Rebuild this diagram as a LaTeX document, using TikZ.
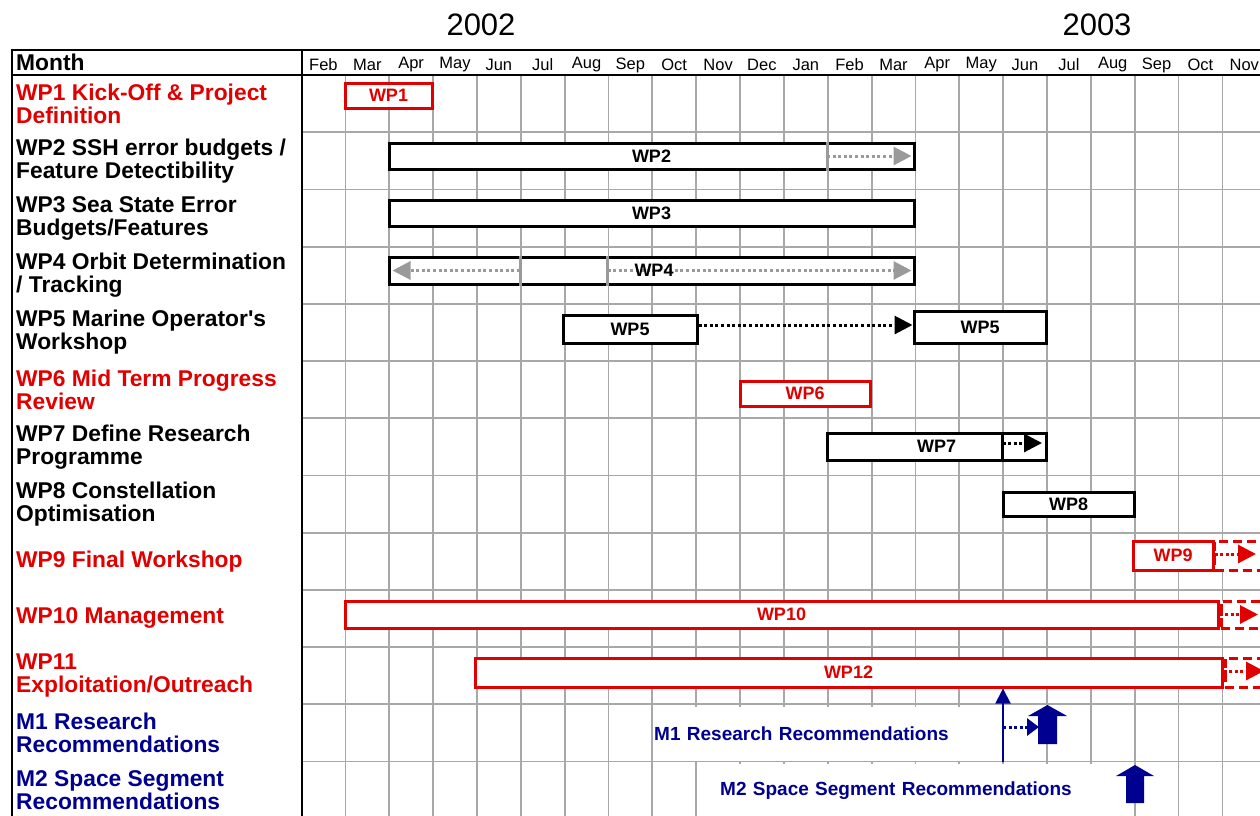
\documentclass[tikz,border=0pt]{standalone}
\usepackage{fontspec}
\setmainfont{Liberation Sans}
\usetikzlibrary{arrows.meta}
\definecolor{WPRed}   {HTML}{E00000}
\definecolor{MileBlue}{HTML}{000090}
\definecolor{GridGray}{HTML}{A8A8A8}
\definecolor{ArrGray} {HTML}{9A9A9A}
\tikzset{
  wpbar/.style={rectangle,draw=#1,fill=white,line width=3pt,inner sep=0pt,
                font=\fontsize{18}{20}\selectfont\bfseries\color{#1}},
  wpext/.style={rectangle,draw=WPRed,fill=white,line width=3pt,
                dash pattern=on 9pt off 5pt,inner sep=0pt,anchor=west},
  rowlab/.style={anchor=west,align=left,inner sep=0pt,
                 font=\fontsize{22.8}{23}\selectfont\bfseries\color{#1}},
  mlab/.style={anchor=west,align=left,fill=white,inner sep=0pt,
               minimum height=54pt,
               font=\fontsize{19}{21}\selectfont\bfseries\color{MileBlue}},
  mon/.style={font=\fontsize{16.5}{18}\selectfont},
  yr/.style={font=\fontsize{31}{34}\selectfont},
  dotarr/.style={-{Triangle[length=18pt,width=18pt]},line width=3pt,
                 dash pattern=on 3pt off 2.6pt,color=#1},
  divl/.style={line width=3pt,color=#1},
  gridl/.style={GridGray,line width=1.8pt},
  frame/.style={black,line width=2.6pt},
}
\begin{document}
\begin{tikzpicture}[x=1pt,y=-1pt]
  \useasboundingbox (0,0) rectangle (1260,815);
  \clip (0,0) rectangle (1260,815);

  % years
  \node[yr] (y2002) at (481,25) {2002};
  \node[yr] (y2003) at (1097,25) {2003};

  % grid
  \foreach \i in {0,...,21}
    \draw[gridl] (345.4+43.85*\i,75) -- (345.4+43.85*\i,830);
  \foreach \r in {1,...,13}
    \draw[gridl] (302,75+57.2*\r) -- (1270,75+57.2*\r);

  \draw[frame] (10.7,50) -- (1270,50);
  \draw[frame] (12,75) -- (1270,75);
  \draw[frame] (12,48.7) -- (12,830);
  \draw[frame] (302,50) -- (302,830);

  % month header
  \node[rowlab=black] (month) at (16,62) {Month};
  \node[mon] (feb02) at (323.4,65) {Feb};
  \node[mon] (mar02) at (367.3,65) {Mar};
  \node[mon] (apr02) at (411.1,65) {Apr};
  \node[mon] (may02) at (455.0,65) {May};
  \node[mon] (jun02) at (498.8,65) {Jun};
  \node[mon] (jul02) at (542.7,65) {Jul};
  \node[mon] (aug02) at (586.5,65) {Aug};
  \node[mon] (sep02) at (630.4,65) {Sep};
  \node[mon] (oct02) at (674.2,65) {Oct};
  \node[mon] (nov02) at (718.1,65) {Nov};
  \node[mon] (dec02) at (761.9,65) {Dec};
  \node[mon] (jan03) at (805.8,65) {Jan};
  \node[mon] (feb03) at (849.6,65) {Feb};
  \node[mon] (mar03) at (893.5,65) {Mar};
  \node[mon] (apr03) at (937.3,65) {Apr};
  \node[mon] (may03) at (981.2,65) {May};
  \node[mon] (jun03) at (1025.0,65) {Jun};
  \node[mon] (jul03) at (1068.9,65) {Jul};
  \node[mon] (aug03) at (1112.7,65) {Aug};
  \node[mon] (sep03) at (1156.6,65) {Sep};
  \node[mon] (oct03) at (1200.4,65) {Oct};
  \node[mon] (nov03) at (1244.3,65) {Nov};

  % row labels
  \node[rowlab=WPRed]    (l1)  at (16,103.6) {WP1 Kick-Off \& Project\\Definition};
  \node[rowlab=black]    (l2)  at (16,160.8) {WP2 SSH error budgets /\\Feature Detectibility};
  \node[rowlab=black]    (l3)  at (16,218.0) {WP3 Sea State Error\\Budgets/Features};
  \node[rowlab=black]    (l4)  at (16,275.2) {WP4 Orbit Determination\\/ Tracking};
  \node[rowlab=black]    (l5)  at (16,332.4) {WP5 Marine Operator\textquotesingle s\\Workshop};
  \node[rowlab=WPRed]    (l6)  at (16,389.6) {WP6 Mid Term Progress\\Review};
  \node[rowlab=black]    (l7)  at (16,446.8) {WP7 Define Research\\Programme};
  \node[rowlab=black]    (l8)  at (16,504.0) {WP8 Constellation\\Optimisation};
  \node[rowlab=WPRed]    (l9)  at (16,561.2) {WP9 Final Workshop};
  \node[rowlab=WPRed]    (l10) at (16,618.4) {WP10 Management};
  \node[rowlab=WPRed]    (l11) at (16,675.6) {WP11\\Exploitation/Outreach};
  \node[rowlab=MileBlue] (l12) at (16,732.8) {M1 Research\\Recommendations};
  \node[rowlab=MileBlue] (l13) at (16,790.0) {M2 Space Segment\\Recommendations};

  % bars
  \node[wpbar=WPRed,minimum width=87,minimum height=25] (wp1) at (388.5,95.5) {WP1};

  \node[wpbar=black,minimum width=525,minimum height=26] (wp2) at (651.5,156) {WP2};
  \coordinate (wp2d) at (827,156);
  \draw[divl=ArrGray] (wp2d |- wp2.north) -- (wp2d |- wp2.south);
  \draw[dotarr=ArrGray] (wp2d) -- ([xshift=-4pt]wp2.east);

  \node[wpbar=black,minimum width=525,minimum height=26] (wp3) at (651.5,213) {WP3};

  \node[wpbar=black,minimum width=525,minimum height=27] (wp4) at (651.5,270.5) {};
  \coordinate (wp4l) at (520,270.5);
  \coordinate (wp4r) at (607.5,270.5);
  \draw[divl=ArrGray] (wp4l |- wp4.north) -- (wp4l |- wp4.south);
  \draw[divl=ArrGray] (wp4r |- wp4.north) -- (wp4r |- wp4.south);
  \draw[dotarr=ArrGray] (wp4l) -- ([xshift=5pt]wp4.west);
  \draw[dotarr=ArrGray] (wp4r) -- ([xshift=-4pt]wp4.east);
  \node[wpbar=black,draw=none,fill=none] (wp4t) at (654,270.5) {WP4};

  \node[wpbar=black,minimum width=134,minimum height=28] (wp5a) at (630,329) {WP5};
  \node[wpbar=black,minimum width=132,minimum height=32] (wp5b) at (980,327) {WP5};
  \draw[dotarr=black] ([yshift=4pt]wp5a.east) -- ([yshift=4pt]wp5a.east -| wp5b.west);

  \node[wpbar=WPRed,minimum width=130,minimum height=25] (wp6) at (805,393.5) {WP6};

  \node[wpbar=black,minimum width=219,minimum height=27] (wp7) at (936.5,446.5) {WP7};
  \coordinate (wp7d) at (1002.5,443);
  \coordinate (wp7e) at (1042,443);
  \draw[divl=black] (wp7d |- wp7.north) -- (wp7d |- wp7.south);
  \draw[dotarr=black] (wp7d) -- (wp7e);

  \node[wpbar=black,minimum width=131,minimum height=24] (wp8) at (1068.5,504) {WP8};

  \node[wpext,minimum width=90,minimum height=29] (wp9x) at (1213,555.5) {};
  \node[wpbar=WPRed,minimum width=80,minimum height=29] (wp9) at (1173,555.5) {WP9};
  \coordinate (wp9tip) at (1256,554);
  \draw[dotarr=WPRed] (wp9.east |- wp9tip) -- (wp9tip);

  \node[wpbar=WPRed,minimum width=873,minimum height=27] (wp10) at (781.5,614.5) {WP10};
  \node[wpext,minimum width=90,minimum height=27] (wp10x) at (wp10.east) {};
  \coordinate (wp10tip) at (1258,614.5);
  \draw[dotarr=WPRed] (wp10.east) -- (wp10tip);

  \node[wpbar=WPRed,minimum width=747,minimum height=29] (wp12) at (848.5,672.5) {WP12};
  \node[wpext,minimum width=90,minimum height=29] (wp12x) at (wp12.east) {};
  \coordinate (wp12tip) at (1264,671);
  \draw[dotarr=WPRed] (wp12.east |- wp12tip) -- (wp12tip);

  % milestones
  \node[mlab,text width=340pt] (m1t) at (654,733.6) {M1 Research Recommendations};
  \node[mlab,text width=378pt] (m2t) at (720,790.5) {M2 Space Segment Recommendations};

  \coordinate (m1base) at (1003,762);
  \draw[-{Triangle[length=15pt,width=15pt]},line width=2pt,MileBlue]
    (m1base) -- (m1base |- wp12.south);
  \coordinate (m1dot) at (1003,727);
  \coordinate (m1tip) at (1039,727);
  \draw[dotarr=MileBlue,-{Triangle[length=12pt,width=17pt]}] (m1dot) -- (m1tip);

  \fill[MileBlue] (1038,744) -- (1038,716) -- (1028,716) -- (1047.5,705)
    -- (1067,716) -- (1057,716) -- (1057,744) -- cycle;
  \fill[MileBlue] (1126,803) -- (1126,776) -- (1116,776) -- (1135,765)
    -- (1154,776) -- (1144,776) -- (1144,803) -- cycle;

\end{tikzpicture}
\end{document}
